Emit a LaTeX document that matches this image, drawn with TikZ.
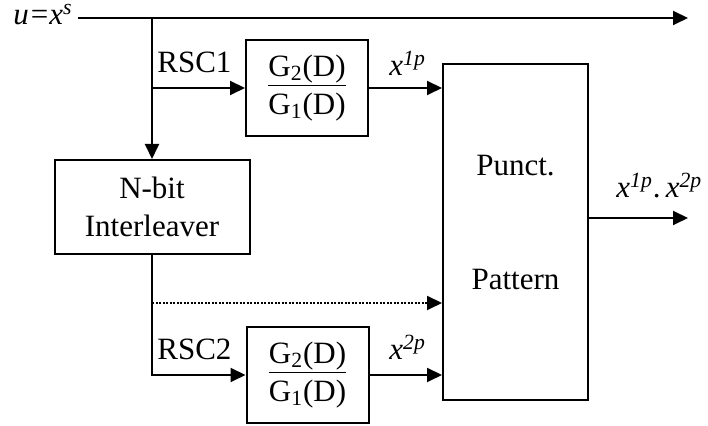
\documentclass[tikz,border=0pt]{standalone}
\usepackage{fontspec}
\setmainfont{Liberation Serif}
\usetikzlibrary{calc}
\usetikzlibrary{positioning}
\usetikzlibrary{arrows.meta}
\tikzset{every picture/.style={/utils/exec={\fontsize{15.5}{19}\selectfont}}}
\tikzset{
  blk/.style={draw, line width=1pt, inner sep=0pt, align=center},
  sig/.style={line width=1pt, -{Triangle[length=7.5pt,width=7pt]}},
  lbl/.style={inner sep=0pt, anchor=base west}
}
\newcommand{\xs}[1]{\textit{x}\textsuperscript{\textit{#1}}}

\begin{document}
\begin{tikzpicture}[x=0.5pt, y=-0.5pt]
  \useasboundingbox (0,0) rectangle (708,426);

  % blocks
  \node [blk, minimum width=97.5pt, minimum height=47pt] (il) at (152,207) {N-bit\\Interleaver};
  \node [blk, minimum width=61pt, minimum height=48pt] (g1) at (307,88) {\underline{G\textsubscript{2}(D)}\\G\textsubscript{1}(D)};
  \node [blk, minimum width=61pt, minimum height=48pt] (g2) at (307.5,375) {\underline{G\textsubscript{2}(D)}\\G\textsubscript{1}(D)};
  \node [blk, minimum width=72.5pt, minimum height=168pt] (pp) at (515.5,232) {};
  \node [lbl, anchor=base] (ppa) at (515.5,176) {Punct.};
  \node [lbl, anchor=base] (ppb) at (515.5,290) {Pattern};

  % input and taps
  \node [lbl, anchor=base east] (src) at (73,25) {\textit{u}\kern1pt=\kern0.5pt\xs{s}};
  \coordinate (start) at (78,18);
  \coordinate (end) at (688,18);
  \coordinate (tap) at (152,18);
  \coordinate (dot) at (152,303);
  \coordinate (outp) at (688,218);

  \draw [sig] (start) -- (end);
  \draw [sig] (tap) -- (il.north);
  \draw [sig] (g1.west -| tap) -- (g1.west);
  \draw [sig] (il.south) -- (il.south |- g2.west) -- (g2.west);
  \draw [sig, dash pattern=on 1pt off 0.75pt] (dot) -- (pp.west |- dot);
  \draw [sig] (g1.east) -- (g1.east -| pp.west);
  \draw [sig] (g2.east) -- (g2.east -| pp.west);
  \draw [sig] (pp.east |- outp) -- (outp);

  % labels
  \node [lbl] (rsc1) at (157,73) {RSC1};
  \node [lbl] (rsc2) at (157,360) {RSC2};
  \node [lbl] (x1p) at (389,76) {\xs{1p}};
  \node [lbl] (x2p) at (389,360) {\xs{2p}};
  \node [lbl] (xout) at (616,198) {\xs{1p}.\,\xs{2p}};
\end{tikzpicture}
\end{document}
